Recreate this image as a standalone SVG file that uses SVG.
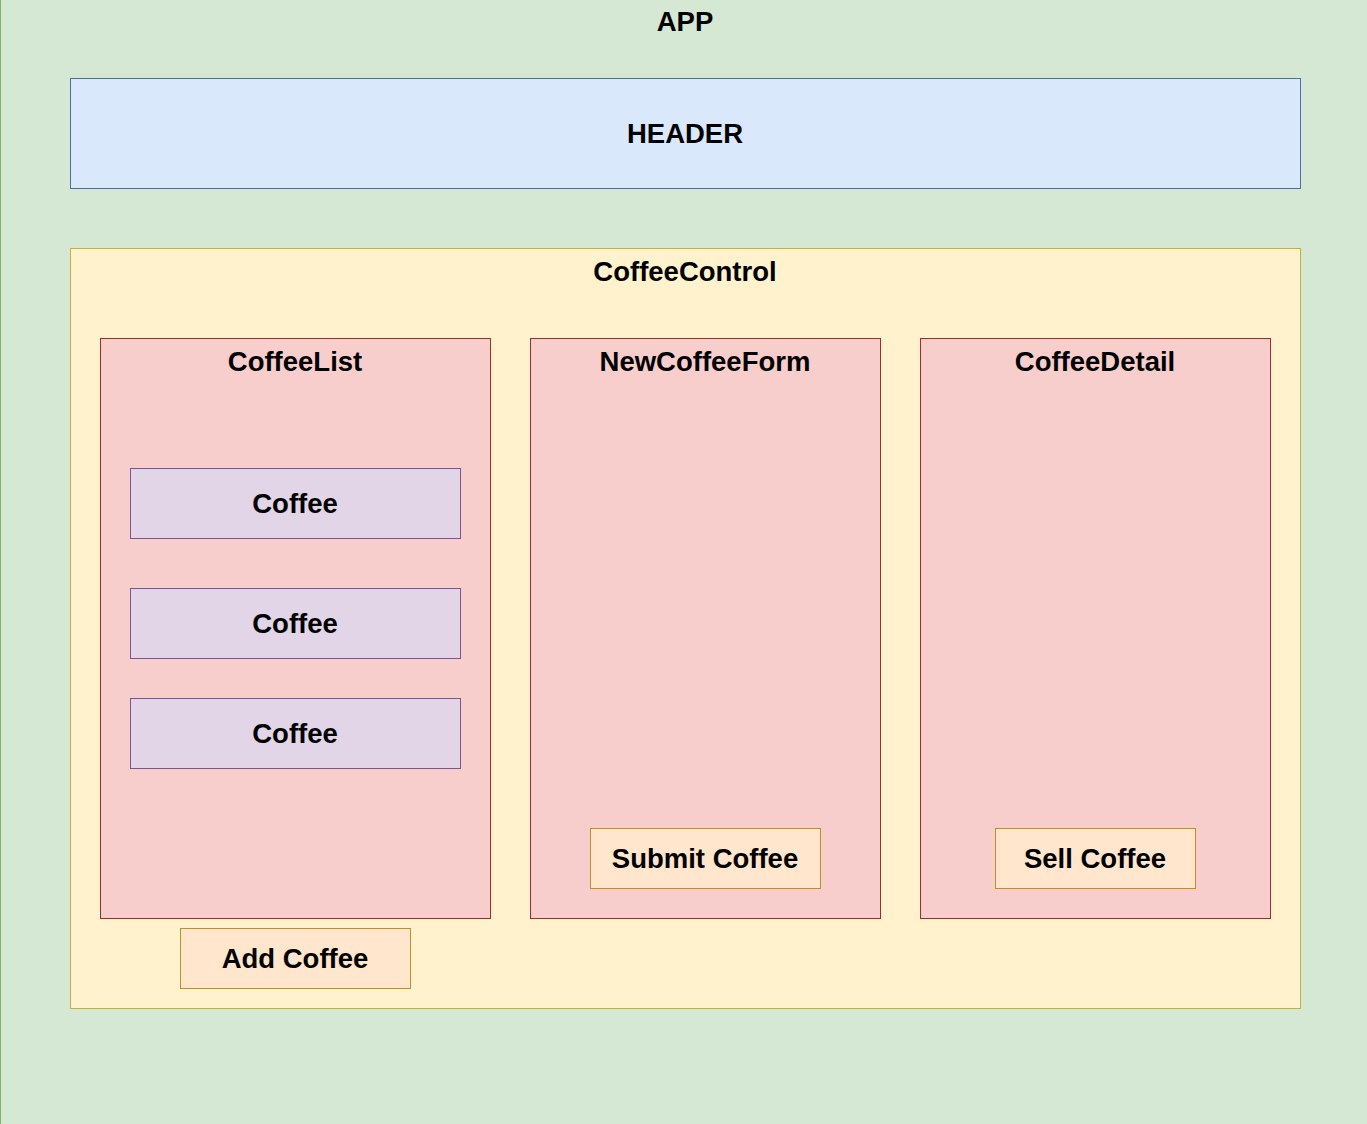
<svg xmlns="http://www.w3.org/2000/svg" width="1367" height="1124" viewBox="0 0 1367 1124">
<style>
text{font-family:"Liberation Sans",Arial,sans-serif;font-weight:bold;font-size:27.5px;fill:#000;text-anchor:middle;dominant-baseline:central}
.app{fill:#d5e8d4;stroke:#82b366}
.hdr{fill:#dae8fc;stroke:#4a6fa5}
.ctl{fill:#fff2cc;stroke:#c8ae3c}
.pnl{fill:#f8cecc;stroke:#a52a2a}
.cof{fill:#e1d5e7;stroke:#7a5590}
.btn{fill:#ffe6cc;stroke:#c09020}
</style>
<g id="app"><rect class="app" x="0.5" y="-10" width="1400" height="1150"/><text x="685" y="21">APP</text></g>
<g id="header"><rect class="hdr" x="70.5" y="78.5" width="1230" height="110"/><text x="685" y="133">HEADER</text></g>
<g id="coffeecontrol"><rect class="ctl" x="70.5" y="248.5" width="1230" height="760"/><text x="685" y="271">CoffeeControl</text></g>
<g id="coffeelist"><rect class="pnl" x="100.5" y="338.5" width="390" height="580"/><text x="295" y="361">CoffeeList</text></g>
<g id="newcoffeeform"><rect class="pnl" x="530.5" y="338.5" width="350" height="580"/><text x="705" y="361">NewCoffeeForm</text></g>
<g id="coffeedetail"><rect class="pnl" x="920.5" y="338.5" width="350" height="580"/><text x="1095" y="361">CoffeeDetail</text></g>
<g id="coffee1"><rect class="cof" x="130.5" y="468.5" width="330" height="70"/><text x="295" y="503">Coffee</text></g>
<g id="coffee2"><rect class="cof" x="130.5" y="588.5" width="330" height="70"/><text x="295" y="623">Coffee</text></g>
<g id="coffee3"><rect class="cof" x="130.5" y="698.5" width="330" height="70"/><text x="295" y="733">Coffee</text></g>
<g id="submitcoffee"><rect class="btn" x="590.5" y="828.5" width="230" height="60"/><text x="705" y="858">Submit Coffee</text></g>
<g id="sellcoffee"><rect class="btn" x="995.5" y="828.5" width="200" height="60"/><text x="1095" y="858">Sell Coffee</text></g>
<g id="addcoffee"><rect class="btn" x="180.5" y="928.5" width="230" height="60"/><text x="295" y="958">Add Coffee</text></g>
<g id="connectors"/>
</svg>
